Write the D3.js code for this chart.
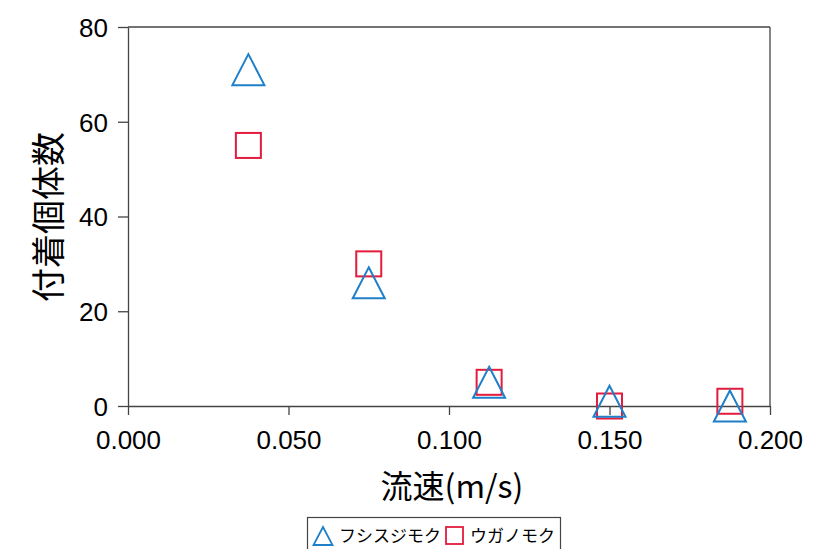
<!DOCTYPE html>
<html><head><meta charset="utf-8">
<script src="https://cdn.jsdelivr.net/npm/d3@7"></script>
<style>body{margin:0;background:#fff}svg{display:block}</style>
</head><body>
<script>
const flowSpeeds = [0.0375, 0.075, 0.1125, 0.15, 0.1875];
const seriesNames = ["フシスジモク", "ウガノモク"];
const fushisujimoku = [71, 26, 5, 1, 0];
const uganomoku = [55, 30, 5, 0, 1];
const xTicks = [0, 0.05, 0.1, 0.15, 0.2];
const yTicks = [0, 20, 40, 60, 80];

const W = 839, H = 549;
const svg = d3.select("body").append("svg").attr("width", W).attr("height", H);
const x = d3.scaleLinear().domain([0, 0.2]).range([128, 770]);
const y = d3.scaleLinear().domain([0, 80]).range([406, 27]);
const blue = "#1f7fc8", red = "#e31b3c", axisCol = "#444";
const font = "'Liberation Sans', Arial, sans-serif";

// frame top and right
svg.append("line").attr("x1", x(0)).attr("x2", x(0.2)).attr("y1", y(80)).attr("y2", y(80)).attr("stroke", axisCol).attr("stroke-width", 1.3);
svg.append("line").attr("x1", x(0.2)).attr("x2", x(0.2)).attr("y1", y(80)).attr("y2", y(0)).attr("stroke", axisCol).attr("stroke-width", 1.3);

const xAxis = svg.append("g").attr("transform", `translate(0,${y(0)})`)
  .call(d3.axisBottom(x).tickValues(xTicks).tickFormat(d3.format(".3f")).tickSize(9).tickSizeOuter(0));
const yAxis = svg.append("g").attr("transform", `translate(${x(0)},0)`)
  .call(d3.axisLeft(y).tickValues(yTicks).tickFormat(d3.format("d")).tickSize(10).tickSizeOuter(0));
[xAxis, yAxis].forEach(g => {
  g.select(".domain").attr("stroke", axisCol).attr("stroke-width", 1.3);
  g.selectAll(".tick line").attr("stroke", axisCol).attr("stroke-width", 1.3);
  g.selectAll(".tick text").attr("fill", "#000").style("font-family", font).style("font-size", "26px");
});
xAxis.selectAll(".tick text").attr("dy", "0").attr("y", 43);
yAxis.selectAll(".tick text").attr("x", -20).attr("dy", "0.36em");

// axis titles
svg.append("text").attr("x", 452).attr("y", 498).attr("text-anchor", "middle")
  .style("font-family", "'Noto Sans CJK JP', sans-serif").style("font-size", "32px").text("流速(m/s)");
svg.append("text").attr("transform", "translate(61,217) rotate(-90)").attr("text-anchor", "middle")
  .style("font-family", "'Noto Sans CJK JP', sans-serif").style("font-size", "34px").text("付着個体数");

const tri = (cx, cy, w, h) => `M${cx},${cy - h / 2}L${cx + w / 2},${cy + h / 2}L${cx - w / 2},${cy + h / 2}Z`;

// squares
svg.append("g").selectAll("rect").data(flowSpeeds.map((s, i) => [s, uganomoku[i]])).join("rect")
  .attr("x", d => x(d[0]) - 12.5).attr("y", d => y(d[1]) - 12.5).attr("width", 25).attr("height", 25)
  .attr("fill", "none").attr("stroke", red).attr("stroke-width", 2);
// triangles
svg.append("g").selectAll("path").data(flowSpeeds.map((s, i) => [s, fushisujimoku[i]])).join("path")
  .attr("d", d => tri(x(d[0]), y(d[1]), 32, 31))
  .attr("fill", "none").attr("stroke", blue).attr("stroke-width", 2);

// legend
const lg = svg.append("g");
lg.append("rect").attr("x", 307.5).attr("y", 517.5).attr("width", 253).attr("height", 40)
  .attr("fill", "#fff").attr("stroke", axisCol).attr("stroke-width", 1.2);
lg.append("path").attr("d", tri(323, 536, 19, 18)).attr("fill", "none").attr("stroke", blue).attr("stroke-width", 1.8);
lg.append("text").attr("x", 339).attr("y", 542).style("font-family", "'Noto Sans CJK JP', sans-serif").style("font-size", "17px").text(seriesNames[0]);
lg.append("rect").attr("x", 446).attr("y", 527).attr("width", 17).attr("height", 17).attr("fill", "none").attr("stroke", red).attr("stroke-width", 1.8);
lg.append("text").attr("x", 470).attr("y", 542).style("font-family", "'Noto Sans CJK JP', sans-serif").style("font-size", "17px").text(seriesNames[1]);
</script>
</body></html>
